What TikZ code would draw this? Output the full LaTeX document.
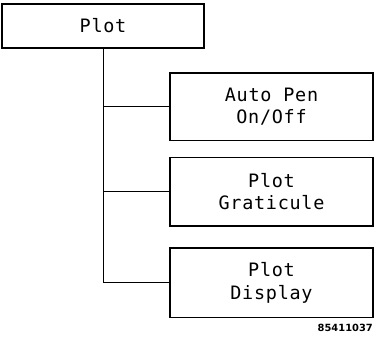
\documentclass[tikz,border=0pt]{standalone}
\usepackage{fontspec}
\usetikzlibrary{positioning}
\newfontfamily\plotfont[LetterSpace=4]{DejaVu Sans Mono}
\newfontfamily\codefont{DejaVu Sans}

\begin{document}
\begin{tikzpicture}
    % Stili per i riquadri del menu
    \tikzset{
        menu box/.style={
            draw,
            line width=1.2pt,
            inner sep=0pt,
            align=center,
            font=\plotfont\fontsize{14}{17}\selectfont
        },
        branch line/.style={
            line width=0.6pt
        }
    }
    \useasboundingbox (0,0) rectangle (10,9.0133);

    % Riquadro principale
    \node[menu box, minimum width=5.39cm, minimum height=1.17cm] (plot) at (2.747, 8.32) {Plot};

    % Riquadri dei sottomenu
    \node[menu box, minimum width=5.41cm, minimum height=1.80cm] (autopen) at (7.24, 6.17) {Auto Pen\\On/Off};
    \node[menu box, minimum width=5.41cm, minimum height=1.83cm] (graticule) at (7.24, 3.90) {Plot\\Graticule};
    \node[menu box, minimum width=5.41cm, minimum height=1.85cm] (display) at (7.24, 1.47) {Plot\\Display};

    % Collegamenti
    \draw[branch line] (plot.south) |- (display.west);
    \draw[branch line] (plot.south |- autopen.west) -- (autopen.west);
    \draw[branch line] (plot.south |- graticule.west) -- (graticule.west);

    % Codice della figura
    \node[anchor=east, inner sep=0pt, font=\codefont\bfseries\fontsize{7.5}{8}\selectfont] (figcode) at (9.947, 0.267) {85411037};
\end{tikzpicture}
\end{document}
